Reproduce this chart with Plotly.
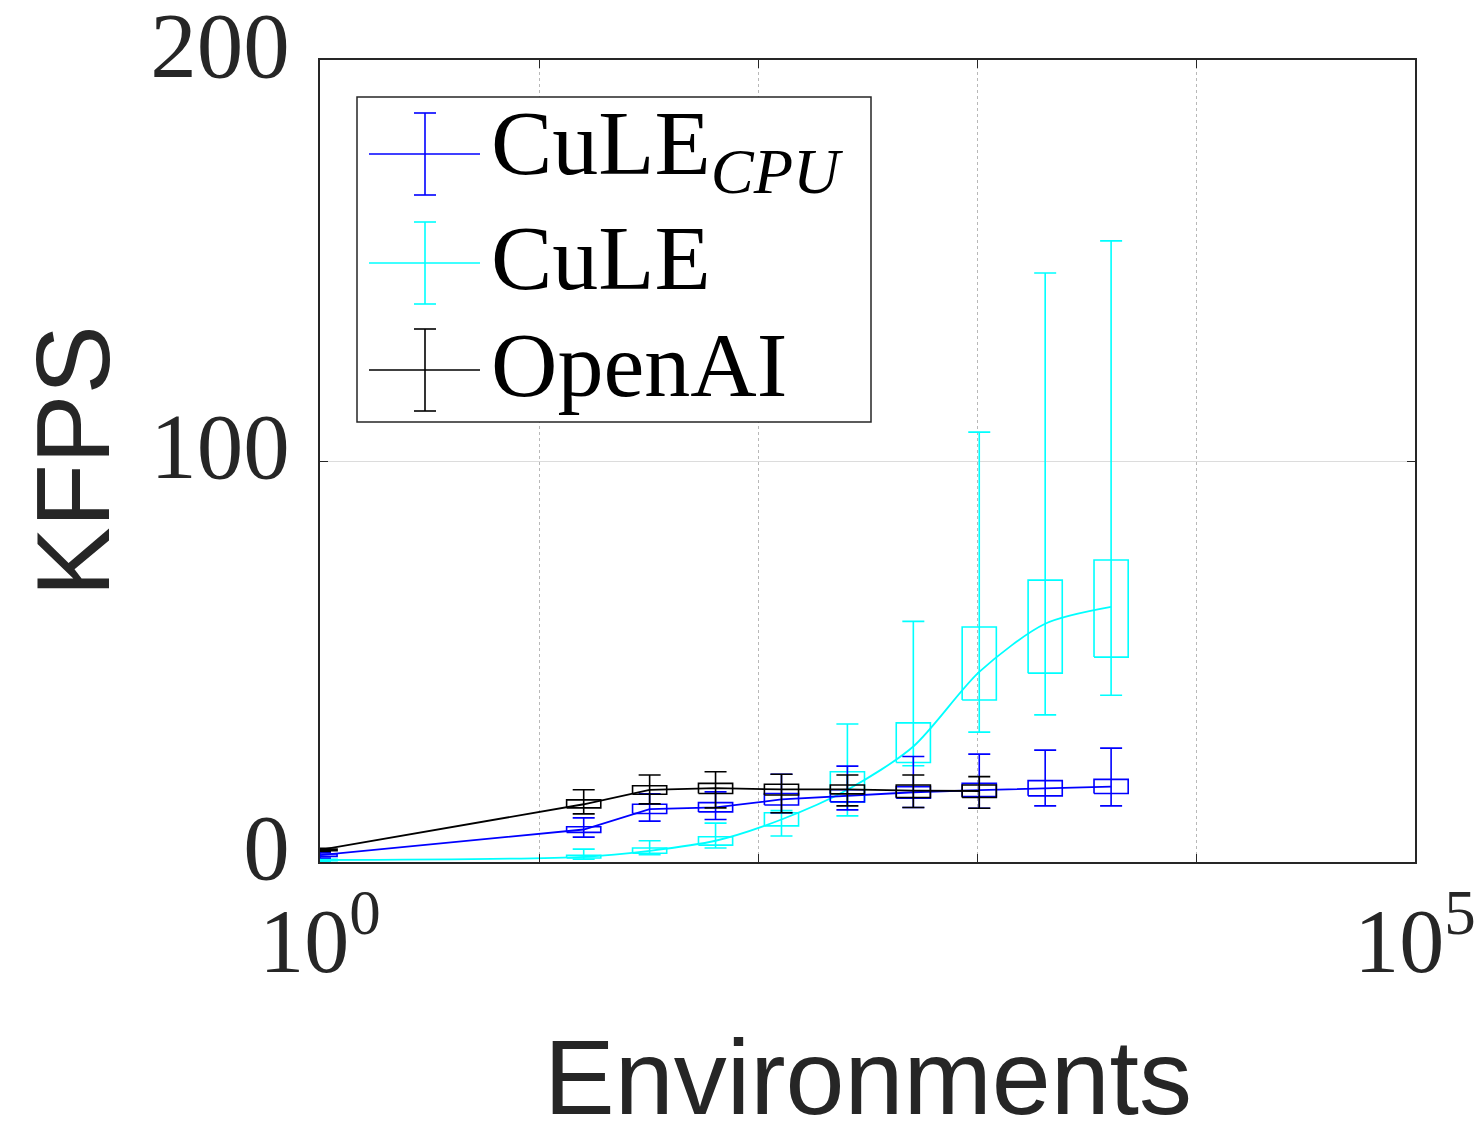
import plotly.graph_objects as go

# ---------------- data ----------------
envs = [1, 16, 32, 64, 128, 256, 512, 1024, 2048, 4096]
envs_openai = [1, 16, 32, 64, 128, 256, 512, 1024]

# OpenAI (black)
oa_mid = [3.0, 14.4, 18.0, 18.4, 18.1, 18.1, 17.8, 17.7]
oa_q1 = [2.8, 13.5, 16.9, 17.1, 16.7, 17.0, 16.1, 16.1]
oa_q3 = [3.2, 15.5, 19.0, 19.6, 19.4, 19.2, 19.2, 19.2]
oa_lo = [2.6, 12.0, 14.5, 13.5, 12.3, 14.0, 13.6, 13.4]
oa_hi = [3.4, 18.0, 21.7, 22.5, 21.9, 21.7, 21.7, 21.3]

# CuLE_CPU (blue)
cpu_mid = [1.7, 8.1, 13.2, 13.6, 15.6, 16.5, 17.4, 17.9, 18.4, 18.8]
cpu_q1 = [1.4, 7.4, 12.1, 12.5, 14.2, 15.0, 15.9, 16.3, 16.5, 17.1]
cpu_q3 = [2.0, 8.8, 14.4, 14.8, 17.1, 18.0, 18.8, 19.6, 20.3, 20.6]
cpu_lo = [1.0, 6.2, 10.2, 10.6, 12.3, 13.0, 13.6, 13.4, 14.0, 14.0]
cpu_hi = [2.4, 11.0, 17.0, 17.5, 21.9, 23.9, 26.3, 26.9, 27.9, 28.4]

# CuLE (cyan)
cule_mid = [0.5, 1.3, 2.8, 5.3, 10.6, 18.0, 28.8, 47.4, 59.4, 63.6]
cule_q1 = [0.3, 1.0, 2.2, 4.2, 9.0, 15.0, 24.8, 40.4, 47.1, 51.1]
cule_q3 = [0.7, 1.7, 3.5, 6.3, 12.3, 22.5, 34.7, 58.6, 70.3, 75.3]
cule_lo = [0.2, 0.7, 1.8, 3.5, 6.5, 11.5, 24.0, 32.4, 36.7, 41.6]
cule_hi = [0.8, 3.2, 5.3, 9.7, 12.8, 34.4, 60.0, 107.2, 146.9, 154.9]

series_names = ["CuLE<sub><i>CPU</i></sub>", "CuLE", "OpenAI"]
x_ticktext = ["10<sup>0</sup>", "", "", "", "", "10<sup>5</sup>"]
y_ticks = [0, 100, 200]
x_title = "Environments"
y_title = "KFPS"

BLUE = "#0000ff"
CYAN = "#00ffff"
BLACK = "#000000"
AX = "#262626"

W, H = 1475, 1126
ML, MR, MT, MB = 320, 60, 60, 264
PW, PH = W - ML - MR, H - MT - MB

BOX_HALF = 0.078  # half box width in decades


def box_paths(xs, q1, q3):
    bx, by = [], []
    f = 10 ** BOX_HALF
    for x, a, b in zip(xs, q1, q3):
        bx += [x / f, x * f, x * f, x / f, x / f, None]
        by += [a, a, b, b, a, None]
    return bx, by


fig = go.Figure()


def add_series(xs, mid, q1, q3, lo, hi, color, shape):
    bx, by = box_paths(xs, q1, q3)
    fig.add_trace(go.Scatter(x=bx, y=by, mode="lines",
                             line=dict(color=color, width=1.6),
                             showlegend=False, hoverinfo="skip"))
    fig.add_trace(go.Scatter(
        x=xs, y=mid, mode="lines",
        line=dict(color=color, width=1.8, shape=shape, smoothing=0.8),
        error_y=dict(type="data", symmetric=False,
                     array=[h - m for h, m in zip(hi, mid)],
                     arrayminus=[m - l for m, l in zip(mid, lo)],
                     color=color, thickness=1.6, width=11),
        showlegend=False))


add_series(envs, cule_mid, cule_q1, cule_q3, cule_lo, cule_hi, CYAN, "spline")
add_series(envs, cpu_mid, cpu_q1, cpu_q3, cpu_lo, cpu_hi, BLUE, "linear")
add_series(envs_openai, oa_mid, oa_q1, oa_q3, oa_lo, oa_hi, BLACK, "linear")


# ---------------- custom legend (pixel -> paper) ----------------
def px(x):
    return (x - ML) / PW


def py(y):
    return (H - MB - y) / PH


shapes = []
annotations = []
shapes.append(dict(type="rect", xref="paper", yref="paper",
                   x0=px(357), x1=px(871), y0=py(422), y1=py(97),
                   line=dict(color=AX, width=1.5), fillcolor="white",
                   layer="above"))
rows = [154, 263, 370]
colors = [BLUE, CYAN, BLACK]
for name, rc, col in zip(series_names, rows, colors):
    shapes.append(dict(type="line", xref="paper", yref="paper",
                       x0=px(369), x1=px(480), y0=py(rc), y1=py(rc),
                       line=dict(color=col, width=1.6), layer="above"))
    shapes.append(dict(type="line", xref="paper", yref="paper",
                       x0=px(425), x1=px(425), y0=py(rc - 41), y1=py(rc + 41),
                       line=dict(color=col, width=1.6), layer="above"))
    for dy in (-41, 41):
        shapes.append(dict(type="line", xref="paper", yref="paper",
                           x0=px(414), x1=px(436), y0=py(rc + dy), y1=py(rc + dy),
                           line=dict(color=col, width=1.6), layer="above"))
    annotations.append(dict(text=name, xref="paper", yref="paper",
                            x=px(489), y=py(rc - 5), xanchor="left", yanchor="middle",
                            showarrow=False,
                            font=dict(family="Liberation Serif", size=92, color="black")))

# x axis title as annotation (placed below the tick labels)
annotations.append(dict(text=x_title, xref="paper", yref="paper",
                        x=0.5, y=py(1077), xanchor="center", yanchor="middle",
                        showarrow=False,
                        font=dict(family="Liberation Sans", size=106, color=AX)))

fig.update_layout(
    width=W, height=H,
    margin=dict(l=ML, r=MR, t=MT, b=MB, autoexpand=False),
    paper_bgcolor="white", plot_bgcolor="white",
    shapes=shapes, annotations=annotations,
    showlegend=False,
    xaxis=dict(type="log", range=[0, 5], automargin=False,
               ticklabeloverflow="allow",
               tickvals=[1, 10, 100, 1000, 10000, 100000], ticktext=x_ticktext,
               ticks="inside", ticklen=8, tickwidth=1.2, tickcolor=AX,
               showline=True, linecolor=AX, linewidth=1.5, mirror="allticks",
               showgrid=True, gridcolor="#b8b8b8", griddash="dot", gridwidth=1.2,
               zeroline=False,
               tickfont=dict(family="Liberation Serif", size=90, color=AX)),
    yaxis=dict(range=[0, 200], tickvals=y_ticks, automargin=False,
               ticklabeloverflow="allow",
               ticks="inside", ticklen=8, tickwidth=1.2, tickcolor=AX,
               showline=True, linecolor=AX, linewidth=1.5, mirror="allticks",
               showgrid=True, gridcolor="#dcdcdc", gridwidth=1.2,
               zeroline=False, ticklabelshift=-16, ticklabelstandoff=10,
               tickfont=dict(family="Liberation Serif", size=93, color=AX),
               title=dict(text=y_title, standoff=6,
                          font=dict(family="Liberation Sans", size=104, color=AX))),
)

fig.write_html("out.html")
